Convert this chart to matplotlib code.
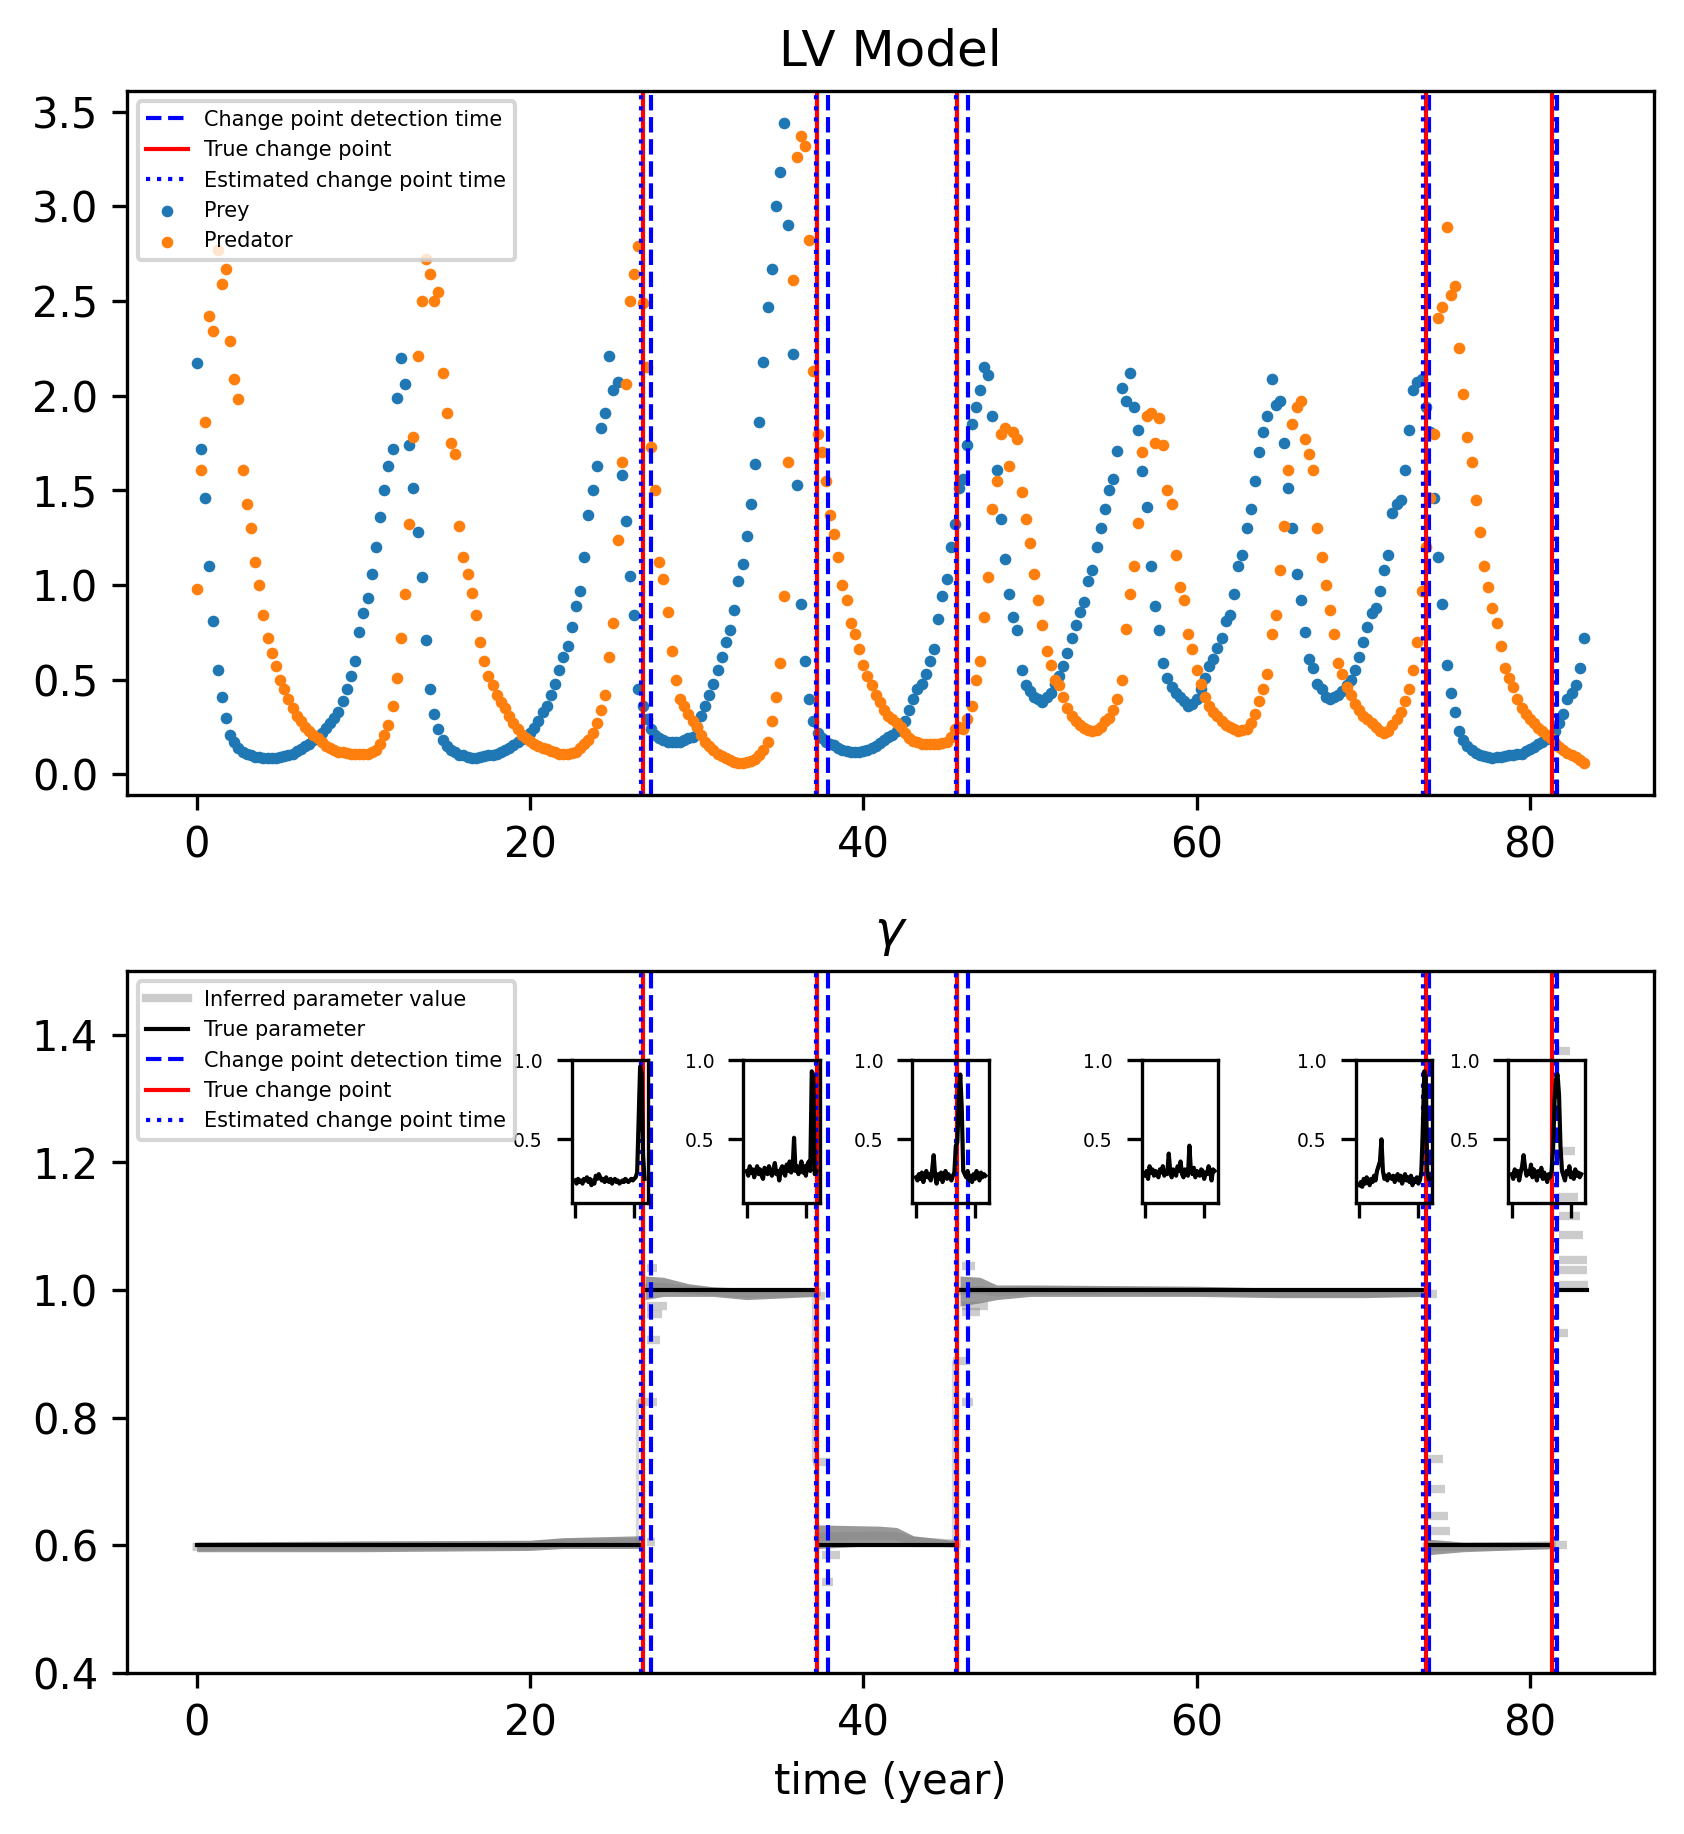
import numpy as np
import matplotlib
matplotlib.use("Agg")
from matplotlib import pyplot as plt

# observations, one every 0.25 year
dt = 0.25
prey = [
    2.17, 1.72, 1.46, 1.10, 0.81, 0.55, 0.41, 0.30, 0.21, 0.17, 0.14, 0.12,
    0.11, 0.10, 0.09, 0.09, 0.085, 0.085, 0.085, 0.085, 0.09, 0.095, 0.10, 0.11,
    0.125, 0.135, 0.15, 0.16, 0.18, 0.20, 0.22, 0.245, 0.27, 0.30, 0.33, 0.39,
    0.45, 0.52, 0.60, 0.75, 0.85, 0.93, 1.06, 1.20, 1.36, 1.50, 1.63, 1.72,
    1.99, 2.20, 2.06, 1.74, 1.51, 1.28, 1.04, 0.71, 0.45, 0.32, 0.24, 0.18,
    0.15, 0.13, 0.12, 0.105, 0.10, 0.09, 0.085, 0.085, 0.09, 0.095, 0.10, 0.105,
    0.11, 0.12, 0.13, 0.14, 0.155, 0.17, 0.185, 0.20, 0.22, 0.245, 0.28, 0.33,
    0.36, 0.42, 0.48, 0.55, 0.62, 0.68, 0.78, 0.89, 0.97, 1.15, 1.37, 1.50,
    1.63, 1.83, 1.91, 2.21, 2.03, 2.07, 1.58, 1.34, 1.05, 0.84, 0.45, 0.36,
    0.29, 0.24, 0.21, 0.19, 0.18, 0.17, 0.17, 0.17, 0.17, 0.18, 0.19, 0.20,
    0.25, 0.31, 0.36, 0.42, 0.48, 0.55, 0.62, 0.70, 0.76, 0.87, 1.02, 1.11,
    1.26, 1.43, 1.64, 1.86, 2.18, 2.47, 2.67, 3.00, 3.18, 3.44, 2.90, 2.22,
    1.53, 0.90, 0.60, 0.40, 0.28, 0.22, 0.19, 0.17, 0.16, 0.155, 0.14, 0.13,
    0.125, 0.12, 0.12, 0.12, 0.125, 0.13, 0.14, 0.15, 0.165, 0.18, 0.20, 0.21,
    0.23, 0.26, 0.28, 0.34, 0.40, 0.45, 0.48, 0.53, 0.60, 0.66, 0.82, 0.94,
    1.03, 1.20, 1.32, 1.51, 1.56, 1.74, 1.85, 1.94, 2.03, 2.15, 2.11, 1.89,
    1.61, 1.35, 1.14, 0.95, 0.83, 0.76, 0.55, 0.47, 0.44, 0.41, 0.40, 0.38,
    0.41, 0.43, 0.48, 0.52, 0.57, 0.64, 0.72, 0.79, 0.86, 0.91, 1.02, 1.08,
    1.20, 1.30, 1.40, 1.50, 1.56, 1.71, 2.04, 1.97, 2.12, 1.94, 1.82, 1.60,
    1.41, 1.10, 0.89, 0.76, 0.59, 0.51, 0.46, 0.43, 0.41, 0.39, 0.36, 0.37,
    0.40, 0.45, 0.51, 0.57, 0.61, 0.67, 0.72, 0.81, 0.84, 0.95, 1.10, 1.16,
    1.30, 1.40, 1.55, 1.70, 1.81, 1.89, 2.09, 1.95, 1.97, 1.75, 1.51, 1.30,
    1.06, 0.92, 0.75, 0.61, 0.56, 0.48, 0.45, 0.41, 0.40, 0.41, 0.42, 0.44,
    0.47, 0.50, 0.55, 0.62, 0.70, 0.78, 0.85, 0.88, 0.97, 1.08, 1.16, 1.38,
    1.43, 1.45, 1.61, 1.82, 2.03, 2.07, 2.09, 1.94, 1.81, 1.46, 1.15, 0.90,
    0.58, 0.43, 0.33, 0.23, 0.18, 0.15, 0.13, 0.115, 0.10, 0.095, 0.09, 0.085,
    0.09, 0.09, 0.095, 0.10, 0.105, 0.11, 0.11, 0.125, 0.135, 0.145, 0.16, 0.17,
    0.185, 0.20, 0.23, 0.27, 0.32, 0.40, 0.43, 0.47, 0.56, 0.72,
]
predator = [
    0.98, 1.61, 1.86, 2.42, 2.34, 2.77, 2.59, 2.67, 2.29, 2.09, 1.98, 1.61,
    1.43, 1.30, 1.12, 1.00, 0.84, 0.72, 0.64, 0.57, 0.50, 0.45, 0.40, 0.35,
    0.31, 0.28, 0.25, 0.23, 0.21, 0.19, 0.17, 0.15, 0.14, 0.13, 0.12, 0.12,
    0.115, 0.11, 0.11, 0.11, 0.11, 0.11, 0.12, 0.13, 0.16, 0.21, 0.26, 0.36,
    0.51, 0.72, 0.95, 1.32, 1.78, 2.21, 2.50, 2.72, 2.64, 2.50, 2.55, 2.12,
    1.91, 1.75, 1.69, 1.31, 1.15, 1.06, 0.96, 0.84, 0.70, 0.60, 0.52, 0.47,
    0.42, 0.38, 0.35, 0.31, 0.27, 0.24, 0.21, 0.19, 0.175, 0.16, 0.15, 0.14,
    0.135, 0.125, 0.12, 0.11, 0.11, 0.11, 0.115, 0.12, 0.14, 0.16, 0.18, 0.22,
    0.27, 0.34, 0.42, 0.62, 0.80, 1.24, 1.65, 2.06, 2.50, 2.64, 2.79, 2.49,
    2.15, 1.73, 1.50, 1.12, 1.03, 0.86, 0.65, 0.50, 0.40, 0.36, 0.32, 0.28,
    0.25, 0.21, 0.17, 0.15, 0.13, 0.11, 0.095, 0.085, 0.075, 0.065, 0.06, 0.06,
    0.065, 0.07, 0.08, 0.10, 0.13, 0.17, 0.28, 0.41, 0.59, 0.94, 1.65, 2.61,
    3.26, 3.37, 3.32, 2.82, 2.13, 1.80, 1.70, 1.55, 1.37, 1.27, 1.15, 1.00,
    0.92, 0.80, 0.74, 0.66, 0.58, 0.52, 0.47, 0.42, 0.38, 0.34, 0.31, 0.29,
    0.27, 0.25, 0.22, 0.19, 0.175, 0.17, 0.16, 0.16, 0.16, 0.16, 0.16, 0.165,
    0.17, 0.20, 0.24, 0.25, 0.24, 0.29, 0.36, 0.50, 0.60, 0.83, 1.04, 1.40,
    1.55, 1.80, 1.83, 1.63, 1.81, 1.77, 1.49, 1.35, 1.22, 1.06, 0.92, 0.79,
    0.65, 0.58, 0.50, 0.47, 0.41, 0.35, 0.31, 0.28, 0.26, 0.245, 0.235, 0.23,
    0.235, 0.25, 0.28, 0.30, 0.34, 0.40, 0.50, 0.77, 0.95, 1.10, 1.33, 1.70,
    1.89, 1.91, 1.75, 1.88, 1.74, 1.50, 1.43, 1.16, 0.99, 0.92, 0.74, 0.66,
    0.55, 0.48, 0.41, 0.36, 0.33, 0.31, 0.28, 0.26, 0.25, 0.24, 0.23, 0.235,
    0.24, 0.27, 0.32, 0.39, 0.45, 0.53, 0.74, 0.84, 1.08, 1.31, 1.61, 1.85,
    1.94, 1.97, 1.77, 1.69, 1.61, 1.30, 1.15, 1.00, 0.87, 0.74, 0.59, 0.53,
    0.46, 0.42, 0.37, 0.34, 0.31, 0.29, 0.27, 0.25, 0.23, 0.22, 0.23, 0.26,
    0.29, 0.33, 0.39, 0.45, 0.55, 0.70, 0.97, 1.20, 1.46, 1.80, 2.41, 2.47,
    2.89, 2.53, 2.58, 2.25, 2.01, 1.78, 1.65, 1.45, 1.28, 1.10, 0.99, 0.88,
    0.80, 0.68, 0.56, 0.51, 0.46, 0.40, 0.35, 0.32, 0.29, 0.27, 0.245, 0.23,
    0.21, 0.19, 0.165, 0.145, 0.13, 0.115, 0.10, 0.09, 0.075, 0.06,
]

# change points (years)
true_cp = [26.76, 37.22, 45.62, 73.76, 81.33]
detect_t = [27.24, 37.88, 46.26, 73.92, 81.65]
est_cp = [26.64, 37.16, 45.56, 73.60, 81.55]

# true gamma, piecewise
gamma_val = [0.6, 1.0, 0.6, 1.0, 0.6, 1.0]
gamma_start = [0.0, 26.9, 37.4, 45.8, 73.9, 81.6]
gamma_end = [26.7, 37.1, 45.6, 73.7, 81.3, 83.4]

# inferred gamma: spread of the particles per regime
band_t = [[0.0, 10, 20, 22, 26.6],
          [26.9, 28, 29.5, 31, 33, 37.2],
          [37.3, 41, 42, 43, 45.6],
          [45.8, 47, 48, 50, 55, 60, 65, 70, 73.7],
          [73.8, 76, 81.3]]
band_lo = [[0.590, 0.590, 0.592, 0.595, 0.595],
           [0.985, 0.990, 0.990, 0.990, 0.985, 0.990],
           [0.595, 0.600, 0.600, 0.598, 0.598],
           [0.975, 0.980, 0.985, 0.990, 0.990, 0.990, 0.988, 0.988, 0.990],
           [0.585, 0.590, 0.595]]
band_hi = [[0.605, 0.607, 0.608, 0.612, 0.615],
           [1.022, 1.020, 1.010, 1.005, 1.003, 1.003],
           [0.632, 0.630, 0.628, 0.615, 0.607],
           [1.022, 1.020, 1.008, 1.008, 1.007, 1.006, 1.003, 1.003, 1.003],
           [0.610, 0.605, 0.605]]
# short-lived particle values right after a change: (value, start, end)
bar_val = [1.035, 0.975, 0.962, 0.922, 0.825, 0.605,
           0.730, 0.585, 0.543, 0.990,
           0.889, 0.825, 1.038, 0.975, 0.965,
           0.735, 0.688, 0.646, 0.622, 0.994,
           1.374, 1.218, 1.146, 1.116, 1.086, 1.047, 1.032, 1.008, 0.933, 0.600]
bar_t0 = [27.00, 27.00, 27.00, 27.00, 26.50, 27.00,
          37.00, 37.50, 37.50, 37.10,
          45.40, 45.90, 45.90, 45.90, 45.90,
          73.85, 73.85, 73.85, 73.85, 73.50,
          81.75, 81.75, 81.75, 81.75, 81.75, 81.75, 81.75, 81.75, 81.75, 81.20]
bar_t1 = [27.60, 28.20, 27.90, 27.80, 27.60, 27.50,
          38.00, 38.60, 38.20, 37.70,
          46.40, 46.60, 46.70, 47.50, 47.00,
          74.80, 74.90, 75.10, 75.20, 74.40,
          82.40, 82.70, 82.90, 83.00, 83.20, 83.40, 83.40, 83.50, 82.30, 82.20]
jump_t = [26.44, 37.00, 45.40]
jump_lo = [0.60, 0.73, 0.60]
jump_hi = [0.83, 1.00, 0.89]

# detection statistic shown in the small windows
inset_x0 = [22.50, 32.80, 42.95, 56.70, 69.55, 78.70]
stat_1 = [0.24, 0.22, 0.25, 0.23, 0.24, 0.22, 0.25, 0.24, 0.26, 0.23, 0.25, 0.21,
          0.24, 0.22, 0.27, 0.25, 0.28, 0.26, 0.24, 0.25, 0.23, 0.26, 0.24, 0.23,
          0.25, 0.22, 0.24, 0.25, 0.23, 0.24, 0.22, 0.23, 0.24, 0.23, 0.25, 0.24,
          0.23, 0.24, 0.25, 0.24, 0.25, 0.26, 0.29, 0.62, 0.96, 0.92, 0.40, 0.25]
stat_2 = [0.30, 0.27, 0.33, 0.29, 0.31, 0.26, 0.30, 0.33, 0.28, 0.31, 0.27, 0.25,
          0.32, 0.30, 0.28, 0.33, 0.29, 0.27, 0.31, 0.35, 0.28, 0.30, 0.24, 0.31,
          0.33, 0.29, 0.27, 0.34, 0.30, 0.36, 0.29, 0.31, 0.51, 0.30, 0.33, 0.28,
          0.32, 0.36, 0.29, 0.33, 0.27, 0.34, 0.36, 0.30, 0.93, 0.90, 0.28, 0.30]
stat_3 = [0.26, 0.24, 0.28, 0.25, 0.29, 0.23, 0.27, 0.30, 0.26, 0.28, 0.24, 0.31,
          0.40, 0.27, 0.22, 0.28, 0.25, 0.29, 0.23, 0.27, 0.30, 0.25, 0.28, 0.26,
          0.24, 0.27, 0.29, 0.46, 0.48, 0.75, 0.91, 0.70, 0.30, 0.28, 0.26, 0.30,
          0.24, 0.27, 0.23, 0.28, 0.25, 0.30, 0.27, 0.24, 0.29, 0.26, 0.28, 0.27]
stat_4 = [0.27, 0.30, 0.25, 0.33, 0.29, 0.31, 0.27, 0.30, 0.28, 0.26, 0.31, 0.29,
          0.33, 0.27, 0.30, 0.28, 0.41, 0.30, 0.26, 0.31, 0.29, 0.27, 0.33, 0.30,
          0.36, 0.28, 0.26, 0.31, 0.29, 0.27, 0.46, 0.30, 0.28, 0.32, 0.26, 0.30,
          0.29, 0.27, 0.31, 0.30, 0.25, 0.29, 0.28, 0.33, 0.30, 0.24, 0.31, 0.30]
stat_5 = [0.21, 0.23, 0.20, 0.25, 0.22, 0.26, 0.24, 0.21, 0.25, 0.23, 0.27, 0.24,
          0.30, 0.33, 0.36, 0.50, 0.30, 0.25, 0.27, 0.24, 0.28, 0.26, 0.25, 0.27,
          0.23, 0.26, 0.28, 0.24, 0.27, 0.22, 0.25, 0.28, 0.24, 0.26, 0.23, 0.27,
          0.21, 0.25, 0.23, 0.26, 0.22, 0.24, 0.29, 0.55, 0.93, 0.90, 0.30, 0.25]
stat_6 = [0.28, 0.25, 0.31, 0.27, 0.30, 0.24, 0.29, 0.33, 0.40, 0.32, 0.27, 0.30,
          0.28, 0.34, 0.26, 0.31, 0.29, 0.24, 0.30, 0.27, 0.32, 0.25, 0.29, 0.26,
          0.23, 0.28, 0.26, 0.30, 0.45, 0.75, 0.88, 0.91, 0.78, 0.45, 0.30, 0.27,
          0.24, 0.30, 0.28, 0.33, 0.26, 0.29, 0.25, 0.31, 0.27, 0.29, 0.26, 0.28]
stats = [stat_1, stat_2, stat_3, stat_4, stat_5, stat_6]

t = np.arange(len(prey)) * dt

fig = plt.figure(figsize=(1684 / 300, 1834 / 300), dpi=300)
ax1 = fig.add_axes([0.0756, 0.5665, 0.9063, 0.3839])
ax2 = fig.add_axes([0.0756, 0.0878, 0.9063, 0.3828])


def change_lines(ax):
    for i, x in enumerate(detect_t):
        ax.axvline(x, color='b', ls='--', lw=1.0,
                   label='Change point detection time' if i == 0 else None)
    for i, x in enumerate(true_cp):
        ax.axvline(x, color='r', ls='-', lw=1.0,
                   label='True change point' if i == 0 else None)
    for i, x in enumerate(est_cp):
        ax.axvline(x, color='b', ls=':', lw=1.0,
                   label='Estimated change point time' if i == 0 else None)


# top: observations
change_lines(ax1)
ax1.scatter(t, prey, s=3.2, color='tab:blue', label='Prey')
ax1.scatter(t, predator, s=3.2, color='tab:orange', label='Predator')
ax1.set_title('LV Model')
ax1.legend(loc='upper left', fontsize=5)

# bottom: gamma
for k in range(len(band_t)):
    ax2.fill_between(band_t[k], band_lo[k], band_hi[k], color='gray',
                     alpha=0.8, lw=0)
    mid = [(a + b) / 2 for a, b in zip(band_lo[k], band_hi[k])]
    ax2.plot(band_t[k], mid, color='gray', alpha=0.4, lw=2,
             label='Inferred parameter value' if k == 0 else None)
ax2.hlines(bar_val, bar_t0, bar_t1, color='gray', alpha=0.4, lw=2)
ax2.vlines(jump_t, jump_lo, jump_hi, color='gray', alpha=0.3, lw=0.8)
for k in range(len(gamma_val)):
    ax2.plot([gamma_start[k], gamma_end[k]], [gamma_val[k], gamma_val[k]],
             color='k', lw=1, label='True parameter' if k == 0 else None)
change_lines(ax2)
ax2.set_ylim(0.4, 1.5)
ax2.set_xlim(ax1.get_xlim())
ax2.set_title(r'$\gamma$')
ax2.set_xlabel('time (year)')
ax2.legend(loc='upper left', fontsize=5)

for x0, s in zip(inset_x0, stats):
    ins = ax2.inset_axes([x0, 1.137, 4.58, 0.223], transform=ax2.transData)
    ins.patch.set_alpha(0)
    ins.plot(np.arange(len(s)), s, color='k', lw=1)
    ins.set_ylim(0.1, 1.0)
    ins.set_yticks([0.5, 1.0])
    ins.set_xticks([0, 40])
    ins.set_xticklabels([])
    ins.tick_params(labelsize=4.5)

fig.savefig('out.png', dpi=300)
